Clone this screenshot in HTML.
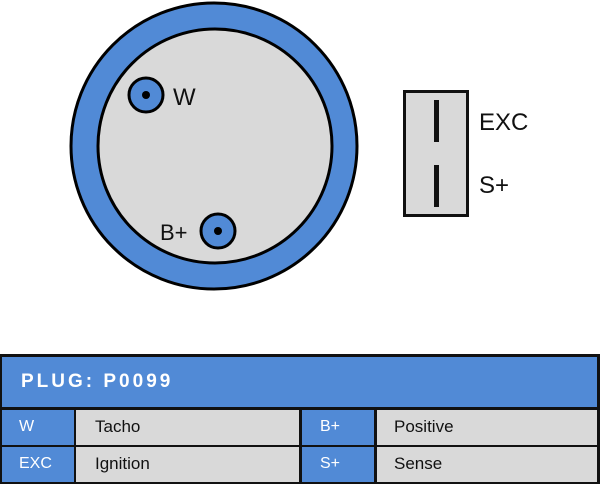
<!DOCTYPE html>
<html><head><style>
body{margin:0;width:600px;height:484px;background:#fff;position:relative;overflow:hidden;font-family:"Liberation Sans",sans-serif;}
.c{position:absolute;box-sizing:border-box;}
.t{position:absolute;color:#fff;font-size:16px;}
.g{position:absolute;color:#111;font-size:17px;}
</style></head><body>
<svg width="600" height="350" style="position:absolute;left:0;top:0">
<circle cx="214" cy="146" r="143" fill="#518ad6" stroke="#000" stroke-width="3"/>
<circle cx="215" cy="146" r="117" fill="#d9d9d9" stroke="#000" stroke-width="3"/>
<circle cx="146" cy="95" r="17" fill="#518ad6" stroke="#000" stroke-width="3"/>
<circle cx="146" cy="95" r="4" fill="#000"/>
<circle cx="218" cy="231" r="17" fill="#518ad6" stroke="#000" stroke-width="3"/>
<circle cx="218" cy="231" r="4" fill="#000"/>
<text x="173" y="105" font-family="Liberation Sans" font-size="24" fill="#111">W</text>
<text x="160" y="240" font-family="Liberation Sans" font-size="22" fill="#111">B+</text>
<rect x="404.5" y="91.5" width="63" height="124" fill="#d9d9d9" stroke="#111" stroke-width="3"/>
<rect x="434" y="100" width="5" height="42" fill="#111"/>
<rect x="434" y="165" width="5" height="42" fill="#111"/>
<text x="479" y="130" font-family="Liberation Sans" font-size="24" fill="#111">EXC</text>
<text x="479" y="193" font-family="Liberation Sans" font-size="24" fill="#111">S+</text>
</svg>
<div class="c" style="left:0;top:354px;width:600px;height:130px;background:#111"></div>
<div class="c" style="left:2px;top:357px;width:595px;height:50px;background:#518ad6"></div>
<div class="t" style="left:21px;top:371px;font-size:19px;font-weight:bold;letter-spacing:3px;">PLUG: P0099</div>
<div class="c" style="left:2px;top:410px;width:72px;height:35px;background:#518ad6"></div>
<div class="c" style="left:76px;top:410px;width:223px;height:35px;background:#d9d9d9"></div>
<div class="c" style="left:302px;top:410px;width:72px;height:35px;background:#518ad6"></div>
<div class="c" style="left:377px;top:410px;width:220px;height:35px;background:#d9d9d9"></div>
<div class="c" style="left:2px;top:447px;width:72px;height:35px;background:#518ad6"></div>
<div class="c" style="left:76px;top:447px;width:223px;height:35px;background:#d9d9d9"></div>
<div class="c" style="left:302px;top:447px;width:72px;height:35px;background:#518ad6"></div>
<div class="c" style="left:377px;top:447px;width:220px;height:35px;background:#d9d9d9"></div>
<div class="t" style="left:19px;top:418px;">W</div>
<div class="g" style="left:95px;top:417px;">Tacho</div>
<div class="t" style="left:320px;top:418px;">B+</div>
<div class="g" style="left:394px;top:417px;">Positive</div>
<div class="t" style="left:19px;top:455px;">EXC</div>
<div class="g" style="left:95px;top:454px;">Ignition</div>
<div class="t" style="left:320px;top:455px;">S+</div>
<div class="g" style="left:394px;top:454px;">Sense</div>
</body></html>
